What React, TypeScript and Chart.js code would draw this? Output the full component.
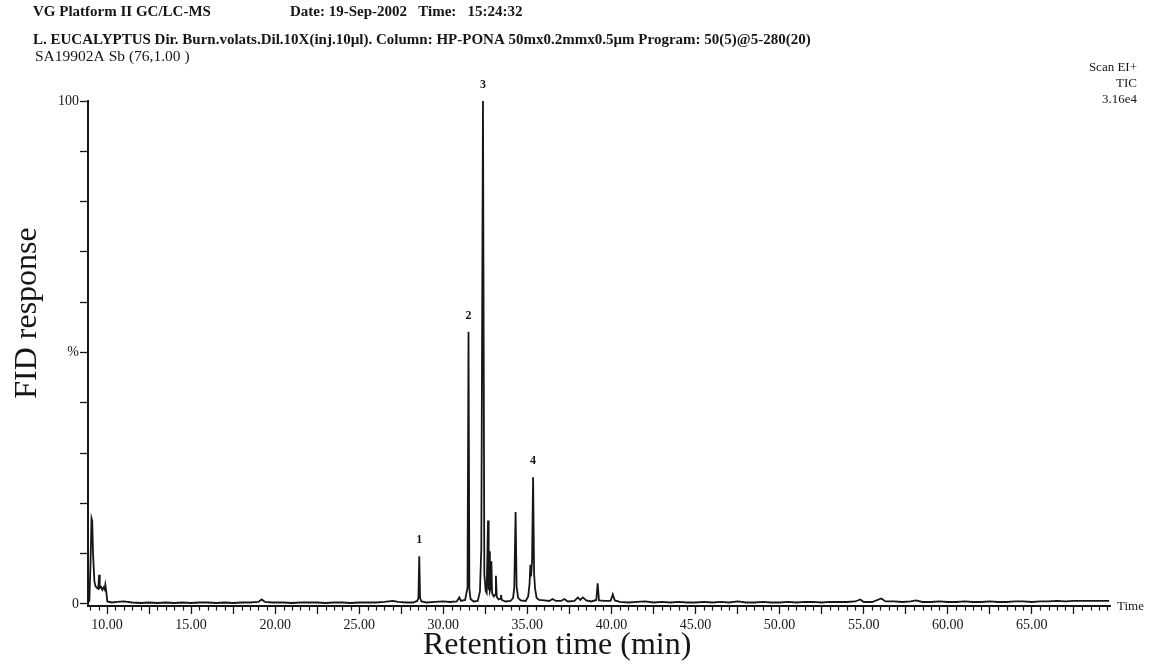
import React, { useEffect, useRef } from "react";
import { Chart, registerables } from "chart.js";

Chart.register(...registerables);

// Total ion chromatogram: retention time (min) vs FID response (% of base peak)
const retentionTimes = [
  8.87, 8.95, 9.02, 9.08, 9.12, 9.17, 9.25, 9.32, 9.4, 9.48, 9.53, 9.57, 9.65, 9.72, 9.8, 9.86, 9.9, 9.95, 10.02,
  10.3, 10.6, 11.0, 11.5, 12.0, 12.5, 13.0, 13.5, 14.0, 14.5, 15.0, 15.5, 16.0, 16.5, 17.0, 17.5, 18.0, 18.5,
  19.0, 19.2, 19.4, 19.8, 20.5, 21.0, 21.5, 22.0, 22.5, 23.0, 23.5, 24.0, 24.5, 25.0, 25.5, 26.0, 26.5, 27.0,
  27.3, 27.8, 28.2, 28.45, 28.52, 28.57, 28.62, 28.7, 29.0, 29.5, 30.0, 30.4, 30.8, 30.95, 31.05, 31.3, 31.38,
  31.44, 31.5, 31.55, 31.62, 31.8, 32.05, 32.18, 32.26, 32.36, 32.44, 32.52, 32.58, 32.66, 32.7, 32.73, 32.77,
  32.82, 32.86, 32.9, 33.0, 33.08, 33.13, 33.18, 33.3, 33.38, 33.43, 33.48, 33.7, 34.0, 34.15, 34.22, 34.3,
  34.36, 34.45, 34.6, 34.9, 35.05, 35.13, 35.18, 35.22, 35.28, 35.34, 35.4, 35.46, 35.55, 35.7, 36.0, 36.3,
  36.5, 36.7, 37.0, 37.2, 37.4, 37.8, 38.0, 38.15, 38.3, 38.5, 38.8, 39.1, 39.18, 39.26, 39.6, 39.95, 40.08,
  40.2, 40.5, 41.0, 41.5, 42.0, 42.5, 43.0, 43.5, 44.0, 44.5, 45.0, 45.5, 46.0, 46.5, 47.0, 47.5, 48.0, 48.5,
  49.0, 49.5, 50.0, 50.5, 51.0, 51.5, 52.0, 52.5, 53.0, 53.5, 54.0, 54.5, 54.8, 55.0, 55.5, 56.05, 56.3, 56.8,
  57.3, 57.8, 58.1, 58.5, 59.0, 59.5, 60.0, 60.5, 61.0, 61.5, 62.0, 62.5, 63.0, 63.5, 64.0, 64.5, 65.0, 65.5,
  66.0, 66.5, 67.0, 67.5, 68.0, 68.5, 69.0, 69.6,
];

const fidResponse = [
  0.4, 0.6, 8, 17, 16.5, 10, 4.5, 3.5, 3.2, 3.0, 5.8, 3.2, 3.4, 2.8, 3.3, 2.9, 3.8, 2.6, 0.5,
  0.3, 0.4, 0.5, 0.3, 0.2, 0.3, 0.2, 0.3, 0.2, 0.3, 0.2, 0.3, 0.3, 0.2, 0.3, 0.2, 0.3, 0.3,
  0.4, 0.9, 0.4, 0.3, 0.3, 0.2, 0.3, 0.3, 0.3, 0.2, 0.3, 0.3, 0.2, 0.3, 0.3, 0.3, 0.4, 0.6,
  0.4, 0.3, 0.3, 0.6, 1.2, 9.5, 1.2, 0.5, 0.3, 0.4, 0.5, 0.4, 0.5, 1.3, 0.6, 0.8, 2.2,
  3.2, 54.1, 3.0, 1.0, 0.5, 0.6, 2.5, 11, 100, 6, 2.6, 2.2, 16.6, 2.8, 10.5, 2.6,
  3.2, 8.5, 2.2, 1.5, 1.8, 5.6, 1.4, 0.9, 1.0, 1.8, 0.8, 0.5, 0.6, 1.2, 3.2, 18.3,
  3.5, 1.2, 0.7, 0.6, 1.5, 4, 7.8, 5.5, 8.7, 25.2, 6, 3.0, 1.2, 0.8, 0.7, 0.6,
  1.0, 0.6, 0.6, 1.0, 0.5, 0.6, 1.3, 0.8, 1.3, 0.7, 0.5, 0.8, 4.1, 0.7, 0.6, 0.6, 1.9,
  0.7, 0.4, 0.3, 0.4, 0.5, 0.3, 0.4, 0.3, 0.4, 0.3, 0.3, 0.4, 0.3, 0.4, 0.3, 0.5, 0.3, 0.3,
  0.4, 0.3, 0.3, 0.4, 0.3, 0.4, 0.4, 0.3, 0.4, 0.4, 0.4, 0.5, 0.9, 0.4, 0.4, 1.1, 0.5, 0.5,
  0.4, 0.5, 0.7, 0.4, 0.4, 0.5, 0.4, 0.4, 0.5, 0.4, 0.4, 0.5, 0.4, 0.4, 0.5, 0.5, 0.4, 0.5,
  0.5, 0.6, 0.5, 0.6, 0.6, 0.6, 0.6, 0.6,
];

// Numbered peaks and the retention time of each apex
const peakIds = ["1", "2", "3", "4"];
const peakTimes = [28.57, 31.5, 32.36, 35.34];

// Axis ticks
const xLabelValues = [10, 15, 20, 25, 30, 35, 40, 45, 50, 55, 60, 65];
const xTickValues = Array.from({ length: 122 }, (_, i) => 9 + i * 0.5);
const xMajorStep = 2.5;
const yTickValues = [0, 10, 20, 30, 40, 50, 60, 70, 80, 90, 100];
const yTickLabels: Record<number, string> = { 0: "0", 50: "%", 100: "100" };

const headerLeft = "VG Platform II GC/LC-MS";
const headerDate = "Date: 19-Sep-2002   Time:   15:24:32";
const sampleLine =
  "L. EUCALYPTUS Dir. Burn.volats.Dil.10X(inj.10\u00b5l). Column: HP-PONA 50mx0.2mmx0.5\u00b5m Program: 50(5)@5-280(20)";
const sampleId = "SA19902A Sb (76,1.00 )";
const scanInfo = ["Scan EI+", "TIC", "3.16e4"];
const xTitle = "Retention time (min)";
const yTitle = "FID response";

const INK = "#161616";
const SERIF = "'Liberation Serif', 'Times New Roman', serif";

const isMajor = (v: number) => Math.abs(v / xMajorStep - Math.round(v / xMajorStep)) < 1e-6;

const decorations = {
  id: "decorations",
  afterDraw(chart: any) {
    const { ctx, chartArea } = chart;
    const xs = chart.scales.x;
    const ys = chart.scales.y;
    ctx.save();

    // short minor ticks every half minute
    ctx.strokeStyle = INK;
    ctx.lineWidth = 1.2;
    xs.ticks.forEach((t: any) => {
      if (isMajor(t.value)) return;
      const px = Math.round(xs.getPixelForValue(t.value)) + 0.5;
      ctx.beginPath();
      ctx.moveTo(px, chartArea.bottom);
      ctx.lineTo(px, chartArea.bottom + 4.5);
      ctx.stroke();
    });

    ctx.fillStyle = INK;
    ctx.textBaseline = "middle";

    // header
    ctx.textAlign = "left";
    ctx.font = `bold 15px ${SERIF}`;
    ctx.fillText(headerLeft, 33, 12);
    ctx.fillText(headerDate, 290, 12);
    ctx.fillText(sampleLine, 33, 40);
    ctx.font = `15.5px ${SERIF}`;
    ctx.fillText(sampleId, 35, 57);

    // acquisition info, right aligned
    ctx.textAlign = "right";
    ctx.font = `13px ${SERIF}`;
    scanInfo.forEach((s, i) => ctx.fillText(s, 1137, 68 + i * 16));

    // axis end label
    ctx.textAlign = "left";
    ctx.fillText("Time", 1117, chartArea.bottom + 1);

    // peak numbers above each apex
    ctx.textAlign = "center";
    ctx.font = `bold 12px ${SERIF}`;
    peakIds.forEach((id, i) => {
      const idx = retentionTimes.indexOf(peakTimes[i]);
      const px = xs.getPixelForValue(retentionTimes[idx]);
      const py = ys.getPixelForValue(fidResponse[idx]);
      ctx.fillText(id, px, py - 16);
    });

    // axis titles
    ctx.font = `32px ${SERIF}`;
    ctx.textAlign = "left";
    ctx.fillText(xTitle, 423, 646);
    ctx.textAlign = "center";
    ctx.save();
    ctx.translate(28, 313);
    ctx.rotate(-Math.PI / 2);
    ctx.fillText(yTitle, 0, 0);
    ctx.restore();

    ctx.restore();
  },
};

export default function App() {
  const canvasRef = useRef<HTMLCanvasElement | null>(null);

  useEffect(() => {
    if (!canvasRef.current) return;
    const chart = new Chart(canvasRef.current, {
      type: "line",
      data: {
        datasets: [
          {
            data: retentionTimes.map((t, i) => ({ x: t, y: fidResponse[i] })),
            borderColor: INK,
            borderWidth: 1.8,
            pointRadius: 0,
            tension: 0,
            fill: false,
          },
        ],
      },
      options: {
        responsive: true,
        maintainAspectRatio: false,
        animation: false,
        layout: { padding: { left: 0, top: 101, right: 39, bottom: 0 } },
        plugins: { legend: { display: false }, tooltip: { enabled: false } },
        scales: {
          x: {
            type: "linear",
            min: 8.87,
            max: 69.65,
            afterBuildTicks: (s: any) => {
              s.ticks = xTickValues.map((v) => ({ value: v }));
            },
            afterFit: (s: any) => {
              s.height = 61;
            },
            ticks: {
              autoSkip: false,
              maxRotation: 0,
              minRotation: 0,
              padding: 3,
              color: INK,
              font: { family: SERIF, size: 14 },
              callback: (v: any) => (xLabelValues.includes(v) ? Number(v).toFixed(2) : ""),
            },
            grid: {
              drawOnChartArea: false,
              drawTicks: true,
              tickLength: 8,
              tickWidth: 1.3,
              tickColor: (c: any) => (c.tick && isMajor(c.tick.value) ? INK : "rgba(0,0,0,0)"),
            },
            border: { display: true, color: INK, width: 2 },
          },
          y: {
            min: -0.4,
            max: 100,
            afterBuildTicks: (s: any) => {
              s.ticks = yTickValues.map((v) => ({ value: v }));
            },
            afterFit: (s: any) => {
              s.width = 88;
            },
            ticks: {
              autoSkip: false,
              padding: 1,
              color: INK,
              font: { family: SERIF, size: 14 },
              callback: (v: any) => yTickLabels[v] ?? "",
            },
            grid: {
              drawOnChartArea: false,
              drawTicks: true,
              tickLength: 8,
              tickWidth: 1.3,
              tickColor: INK,
            },
            border: { display: true, color: INK, width: 2 },
          },
        },
      },
      plugins: [decorations],
    });
    return () => chart.destroy();
  }, []);

  return (
    <div style={{ position: "fixed", left: 0, top: 0, width: 1149, height: 667, background: "#fff" }}>
      <canvas ref={canvasRef} />
    </div>
  );
}
